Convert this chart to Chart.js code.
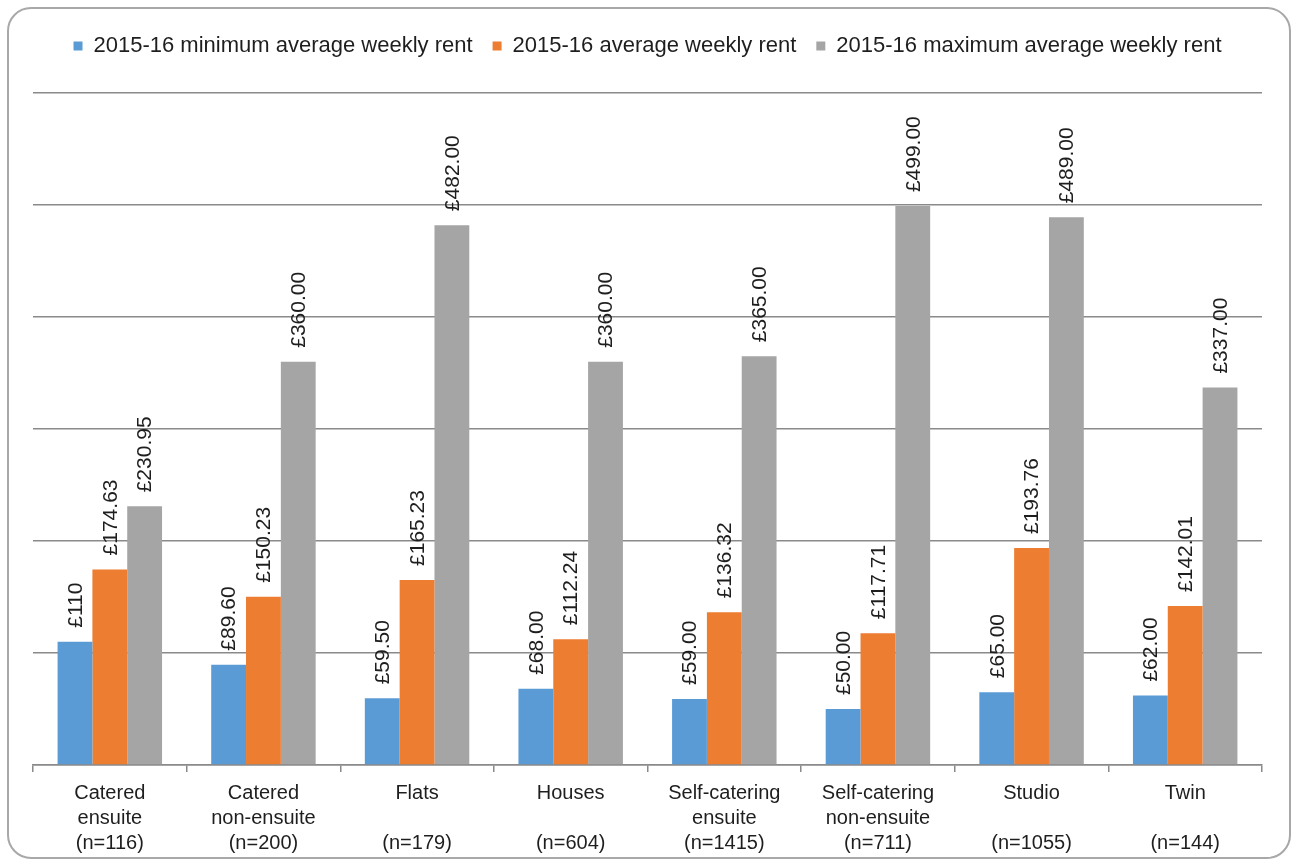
<!DOCTYPE html>
<html>
<head>
<meta charset="utf-8">
<script src="https://cdn.jsdelivr.net/npm/chart.js@4.4.0/dist/chart.umd.min.js"></script>
<style>
  html, body { margin: 0; padding: 0; background: #ffffff; }
  #frame { position: absolute; left: 7px; top: 7px; width: 1280px; height: 848px;
           border: 2px solid #a8a8a8; border-radius: 24px; box-sizing: content-box; }
  #wrap { position: absolute; left: 0; top: 0; width: 1293px; height: 861px; }
</style>
</head>
<body>
<div id="frame"></div>
<div id="wrap"><canvas id="c" width="1293" height="861"></canvas></div>
<script>
const categories = [
  ["Catered", "ensuite", "(n=116)"],
  ["Catered", "non-ensuite", "(n=200)"],
  ["Flats", "", "(n=179)"],
  ["Houses", "", "(n=604)"],
  ["Self-catering", "ensuite", "(n=1415)"],
  ["Self-catering", "non-ensuite", "(n=711)"],
  ["Studio", "", "(n=1055)"],
  ["Twin", "", "(n=144)"]
];
const seriesNames = [
  "2015-16 minimum average weekly rent",
  "2015-16 average weekly rent",
  "2015-16 maximum average weekly rent"
];
const minRent = [110, 89.60, 59.50, 68.00, 59.00, 50.00, 65.00, 62.00];
const avgRent = [174.63, 150.23, 165.23, 112.24, 136.32, 117.71, 193.76, 142.01];
const maxRent = [230.95, 360.00, 482.00, 360.00, 365.00, 499.00, 489.00, 337.00];
const minDecimals = [0, 2, 2, 2, 2, 2, 2, 2];
const avgDecimals = [2, 2, 2, 2, 2, 2, 2, 2];
const maxDecimals = [2, 2, 2, 2, 2, 2, 2, 2];

const FONT = "'Liberation Sans', Arial, sans-serif";
const colors = ["#5b9bd5", "#ed7d31", "#a5a5a5"];
const decimals = [minDecimals, avgDecimals, maxDecimals];

const barLabels = {
  id: 'barLabels',
  afterDatasetsDraw(chart) {
    const ctx = chart.ctx;
    ctx.save();
    ctx.font = "21px " + FONT;
    ctx.fillStyle = "#1e1e1e";
    chart.data.datasets.forEach((ds, di) => {
      const meta = chart.getDatasetMeta(di);
      meta.data.forEach((bar, i) => {
        const v = ds.data[i];
        const txt = "£" + v.toFixed(decimals[di][i]);
        ctx.save();
        ctx.translate(bar.x + 1, bar.y - 14);
        ctx.rotate(-Math.PI / 2);
        ctx.textAlign = "left";
        ctx.textBaseline = "middle";
        ctx.fillText(txt, 0, 0);
        ctx.restore();
      });
    });
    ctx.restore();
  }
};

const legendSpace = {
  id: 'legendSpace',
  beforeInit(chart) {
    const orig = chart.legend.fit;
    chart.legend.fit = function () {
      orig.call(this);
      this.height += 26;
    };
  }
};

new Chart(document.getElementById('c'), {
  type: 'bar',
  data: {
    labels: categories,
    datasets: [
      { label: seriesNames[0], data: minRent, backgroundColor: colors[0] },
      { label: seriesNames[1], data: avgRent, backgroundColor: colors[1] },
      { label: seriesNames[2], data: maxRent, backgroundColor: colors[2] }
    ]
  },
  options: {
    responsive: false,
    animation: false,
    devicePixelRatio: 1,
    layout: { padding: { left: 33, right: 31, top: 15, bottom: -4 } },
    datasets: { bar: { categoryPercentage: 0.68, barPercentage: 1.0 } },
    plugins: {
      legend: {
        position: 'top',
        labels: {
          font: { family: FONT, size: 22 },
          color: "#1e1e1e",
          boxWidth: 9,
          boxHeight: 9,
          padding: 20
        }
      },
      tooltip: { enabled: false }
    },
    scales: {
      x: {
        grid: { offset: true, drawOnChartArea: false, drawTicks: true, tickLength: 7,
                color: "#8a8a8a", lineWidth: 1.5 },
        border: { display: true, color: "#8a8a8a", width: 1.5 },
        ticks: { font: { family: FONT, size: 20, lineHeight: 1.25 }, color: "#1e1e1e",
                 padding: 9, maxRotation: 0, autoSkip: false }
      },
      y: {
        min: 0, max: 600,
        ticks: { display: false, stepSize: 100 },
        grid: { color: "#8a8a8a", lineWidth: 1.5, drawTicks: false },
        border: { display: false }
      }
    }
  },
  plugins: [barLabels, legendSpace]
});
</script>
</body>
</html>
